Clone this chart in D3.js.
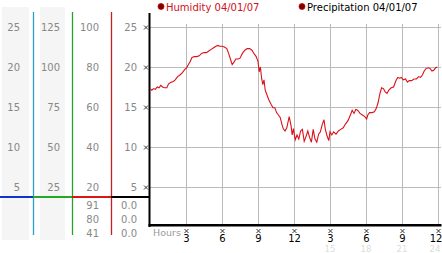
<!DOCTYPE html>
<html><head><meta charset="utf-8">
<script src="https://cdn.jsdelivr.net/npm/d3@7"></script>
<style>body{margin:0;background:#fff}svg{display:block}text{font-family:"DejaVu Sans",Verdana,sans-serif}</style>
</head><body><svg id="c" width="442" height="253"></svg>
<script>
const hours = [0.0,0.15,0.3,0.45,0.6,0.75,0.9,1.05,1.2,1.4,1.55,1.75,1.95,2.1,2.3,2.5,2.7,2.9,3.05,3.2,3.35,3.5,3.7,3.9,4.1,4.3,4.5,4.7,4.9,5.1,5.3,5.5,5.65,5.8,6.0,6.2,6.4,6.55,6.7,6.85,7.0,7.15,7.35,7.5,7.7,7.9,8.1,8.3,8.5,8.7,8.85,9.0,9.1,9.2,9.3,9.4,9.5,9.6,9.75,9.9,10.1,10.25,10.4,10.55,10.7,10.85,11.0,11.1,11.25,11.4,11.5,11.6,11.75,11.85,11.95,12.1,12.25,12.4,12.55,12.7,12.85,13.0,13.15,13.3,13.45,13.6,13.75,13.9,14.05,14.2,14.35,14.5,14.6,14.75,14.9,15.0,15.15,15.3,15.5,15.7,15.9,16.1,16.3,16.5,16.7,16.85,17.0,17.15,17.3,17.5,17.7,17.9,18.05,18.15,18.3,18.5,18.7,18.85,19.0,19.15,19.3,19.45,19.6,19.75,19.9,20.1,20.3,20.5,20.65,20.8,20.95,21.1,21.3,21.45,21.6,21.8,22.0,22.2,22.4,22.55,22.7,22.85,23.0,23.2,23.35,23.5,23.65,23.8,23.95];
const humidity = [17.3,17.1,17.3,17.2,17.5,17.4,17.7,17.5,17.4,17.4,17.9,18.1,18.2,18.4,18.8,19.0,19.3,19.7,19.9,20.3,20.7,21.2,21.3,21.3,21.4,21.7,21.8,21.8,22.0,22.2,22.4,22.6,22.7,22.6,22.6,22.5,22.3,21.7,21.0,20.3,20.6,21.0,21.0,21.1,21.7,22.1,22.3,22.3,22.1,21.6,21.3,20.7,19.4,20.0,18.6,17.8,18.4,17.1,16.5,15.9,15.3,14.9,14.9,14.3,14.0,13.7,12.8,12.3,12.0,12.4,13.1,13.8,12.7,11.5,12.3,10.9,11.5,11.0,12.0,12.2,10.7,11.3,12.0,11.2,10.6,12.2,11.0,10.6,11.6,11.9,12.8,13.4,12.3,11.4,10.8,11.9,11.5,11.9,11.6,12.0,12.2,12.4,12.9,13.3,14.0,14.6,14.2,14.7,14.6,14.2,14.0,13.8,13.5,14.0,14.3,14.3,14.4,14.8,15.5,16.6,17.4,17.3,16.9,16.7,17.1,17.4,17.5,18.3,18.7,18.6,18.7,18.4,18.5,18.1,18.3,18.3,18.5,18.5,18.8,18.7,19.0,19.5,19.8,19.9,19.8,19.5,19.6,19.9,20.0];

const yTicks = [25,20,15,10,5];
const col1Labels = ["25","20","15","10","5"];
const col2Labels = ["125","100","75","50","25"];
const col3Labels = ["100","80","60","40","20"];
const col4Labels = ["25","20","15","10","5"];
const col3Bottom = ["91","80","41"];
const col4Bottom = ["0.0","0.0","0.0"];
const xTickHours = [3,6,9,12,15,18,21,24];
const xTickLabels = ["3","6","9","12","3","6","9","12"];
const xFaintLabels = ["","","","","15","18","21","24"];
const legendNames = ["Humidity 04/01/07","Precipitation 04/01/07"];
const legendColors = ["#d0101a","#000"];

const svg = d3.select("#c");
const x = d3.scaleLinear().domain([0,24]).range([150,438]);
const y = d3.scaleLinear().domain([0,25]).range([227,27]);

// left panel backgrounds
svg.append("rect").attr("x",2).attr("y",7).attr("width",27).attr("height",233).attr("fill","#f5f5f5");
svg.append("rect").attr("x",40).attr("y",7).attr("width",25).attr("height",233).attr("fill","#f5f5f5");

// gridlines
svg.selectAll(".hg").data(yTicks).join("line")
  .attr("x1",150).attr("x2",441).attr("y1",d=>y(d)+0.5).attr("y2",d=>y(d)+0.5)
  .attr("stroke","#bbb").attr("stroke-width",1);
svg.selectAll(".vg").data(xTickHours).join("line")
  .attr("x1",d=>Math.round(x(d))+0.5).attr("x2",d=>Math.round(x(d))+0.5).attr("y1",24).attr("y2",225)
  .attr("stroke","#bbb").attr("stroke-width",1);

// left panel label columns
const cols = [
  {labels: col1Labels, ax: 20},
  {labels: col2Labels, ax: 60},
  {labels: col3Labels, ax: 99},
  {labels: col4Labels, ax: 137}
];
cols.forEach(c=>{
  svg.append("g").selectAll("text").data(yTicks).join("text")
    .attr("x",c.ax).attr("y",(d)=>y(d)+4).attr("text-anchor","end")
    .attr("font-size",10).attr("fill","#888").text((d,i)=>c.labels[i]);
});
const bottomY = [205,219,233];
svg.append("g").selectAll("text").data(col3Bottom).join("text")
  .attr("x",99).attr("y",(d,i)=>bottomY[i]+4).attr("text-anchor","end")
  .attr("font-size",10).attr("fill","#888").text(d=>d);
svg.append("g").selectAll("text").data(col4Bottom).join("text")
  .attr("x",137).attr("y",(d,i)=>bottomY[i]+4).attr("text-anchor","end")
  .attr("font-size",10).attr("fill","#888").text(d=>d);

// separator vertical lines
const sepX = [33,72,111];
const sepColors = ["#2aa0c8","#2aa02a","#c82020"];
sepX.forEach((sx,i)=>{
  svg.append("line").attr("x1",sx+0.5).attr("x2",sx+0.5).attr("y1",12).attr("y2",235)
    .attr("stroke",sepColors[i]).attr("stroke-width",1.3);
});
// horizontal colored baseline
const hSegs = [[0,33,"#1530d0"],[33,72,"#22aa22"],[72,111,"#dd1515"],[111,150,"#000"]];
hSegs.forEach(s=>{
  svg.append("rect").attr("x",s[0]).attr("y",196).attr("width",s[1]-s[0]).attr("height",2).attr("fill",s[2]);
});

// axes
svg.append("rect").attr("x",148.5).attr("y",13).attr("width",2).attr("height",214).attr("fill","#000");
svg.append("rect").attr("x",148.5).attr("y",224).attr("width",293).attr("height",2.5).attr("fill","#000");

// tick marks glyphs
function mark(g,cx,cy){
  g.append("path").attr("d",`M${cx-2},${cy-2}L${cx+2},${cy+2}M${cx+2},${cy-2}L${cx-2},${cy+2}`)
   .attr("stroke","#222").attr("stroke-width",0.9).attr("fill","none");
}
const mk = svg.append("g");
yTicks.forEach(t=>mark(mk,146,y(t)+0.5));
xTickHours.forEach(h=>mark(mk,Math.min(Math.round(x(h))+0.5,438.5),231));

// faint secondary labels
svg.append("g").selectAll("text").data(xTickHours).join("text")
  .attr("x",d=>Math.min(Math.round(x(d)),435)).attr("y",251.5).attr("text-anchor","middle")
  .attr("font-size",8.5).attr("fill","#dcdcdc").text((d,i)=>xFaintLabels[i]);
// x labels
svg.append("g").selectAll("text").data(xTickHours).join("text")
  .attr("x",d=>Math.min(Math.round(x(d))+0.5,436)).attr("y",242).attr("text-anchor","middle")
  .attr("font-size",10).attr("fill","#000").text((d,i)=>xTickLabels[i]);
svg.append("text").attr("x",153).attr("y",236).attr("font-size",9.5).attr("fill","#9a9a9a").text("Hours");

// legend
const legX = [161,302];
legendNames.forEach((n,i)=>{
  svg.append("circle").attr("cx",legX[i]).attr("cy",6.5).attr("r",3).attr("fill","#7a0000").attr("stroke","#c00").attr("stroke-width",0.8);
  svg.append("text").attr("x",legX[i]+5).attr("y",10.5).attr("font-size",10).attr("fill",legendColors[i]).text(n);
});

// humidity line
const line = d3.line().x((d,i)=>x(hours[i])).y(d=>y(d));
svg.append("path").datum(humidity).attr("d",line).attr("fill","none").attr("stroke","#dc1018").attr("stroke-width",1.1);
</script></body></html>
